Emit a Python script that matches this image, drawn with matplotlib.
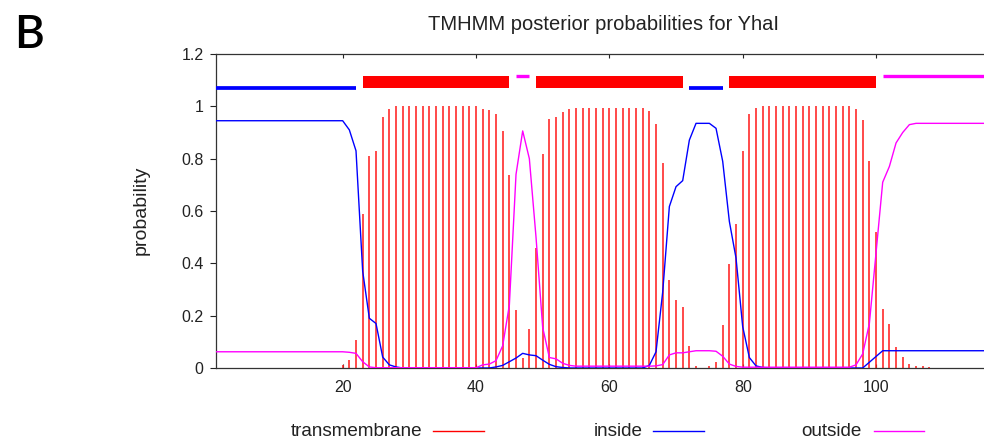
import matplotlib
matplotlib.use("Agg")
import matplotlib.pyplot as plt
from matplotlib.lines import Line2D

plt.rcParams['font.family'] = ['Liberation Sans', 'DejaVu Sans']

# ---------------- data ----------------
residues = list(range(1, 118))

transmembrane = [
    0, 0, 0, 0, 0, 0, 0, 0, 0, 0, 0, 0, 0, 0, 0, 0, 0, 0, 0,          # 1-19
    0.01, 0.03, 0.107, 0.59, 0.81, 0.83, 0.96, 0.99,                  # 20-27
    1.0, 1.0, 1.0, 1.0, 1.0, 1.0, 1.0, 1.0, 1.0, 1.0, 1.0, 1.0, 1.0,  # 28-40
    0.99, 0.985, 0.972, 0.907, 0.737, 0.222, 0.04, 0.148, 0.457, 0.816,
    0.95, 0.96, 0.98, 0.988,                                          # 41-54
    0.993, 0.993, 0.993, 0.993, 0.993, 0.993, 0.993, 0.993, 0.993, 0.993,  # 55-64
    0.992, 0.983, 0.931, 0.782, 0.336, 0.258, 0.233, 0.084, 0.008, 0.0,
    0.008, 0.024, 0.165, 0.397, 0.55, 0.83, 0.97, 0.993,              # 65-82
    1.0, 1.0, 1.0, 1.0, 1.0, 1.0, 1.0, 1.0, 1.0, 1.0, 1.0, 1.0, 1.0, 1.0,  # 83-96
    0.988, 0.946, 0.79, 0.518, 0.224, 0.167, 0.079, 0.043, 0.015, 0.008,
    0.008, 0.005,                                                     # 97-108
    0, 0, 0, 0, 0, 0, 0, 0, 0,                                        # 109-117
]

inside = [
    0.945, 0.945, 0.945, 0.945, 0.945, 0.945, 0.945, 0.945, 0.945, 0.945,
    0.945, 0.945, 0.945, 0.945, 0.945, 0.945, 0.945, 0.945, 0.945, 0.945,  # 1-20
    0.91, 0.83, 0.37, 0.19, 0.17, 0.042, 0.012, 0.004,                # 21-28
    0, 0, 0, 0, 0, 0, 0, 0, 0, 0, 0, 0, 0, 0,                          # 29-42
    0.004, 0.01, 0.024, 0.038, 0.056, 0.05, 0.047, 0.03, 0.014, 0.005,
    0.002,                                                            # 43-53
    0, 0, 0, 0, 0, 0, 0, 0, 0, 0, 0, 0,                                # 54-65
    0.01, 0.062, 0.29, 0.617, 0.693, 0.716, 0.871, 0.935, 0.935, 0.935,
    0.916, 0.79, 0.56, 0.42, 0.158, 0.04, 0.008, 0.002,                # 66-83
    0, 0, 0, 0, 0, 0, 0, 0, 0, 0, 0, 0, 0, 0, 0,                       # 84-98
    0.022, 0.044, 0.066,                                              # 99-101
    0.066, 0.066, 0.066, 0.066, 0.066, 0.066, 0.066, 0.066,
    0.066, 0.066, 0.066, 0.066, 0.066, 0.066, 0.066, 0.066,            # 102-117
]

outside = [
    0.062, 0.062, 0.062, 0.062, 0.062, 0.062, 0.062, 0.062, 0.062, 0.062,
    0.062, 0.062, 0.062, 0.062, 0.062, 0.062, 0.062, 0.062, 0.062, 0.062,  # 1-20
    0.06, 0.056, 0.024, 0.004,                                        # 21-24
    0.001, 0.001, 0.001, 0.001, 0.001, 0.001, 0.001, 0.001,
    0.001, 0.001, 0.001, 0.001, 0.001, 0.001, 0.001, 0.001,            # 25-40
    0.012, 0.015, 0.028, 0.085, 0.24, 0.74, 0.906, 0.80, 0.50, 0.155,
    0.04, 0.035, 0.018, 0.01,                                         # 41-54
    0.007, 0.007, 0.007, 0.007, 0.007, 0.007, 0.007, 0.007, 0.007, 0.007,
    0.007, 0.007,                                                     # 55-66
    0.008, 0.013, 0.05, 0.058, 0.058, 0.062, 0.066, 0.066, 0.066, 0.064,
    0.045, 0.015, 0.006,                                              # 67-79
    0.003, 0.003, 0.003, 0.003, 0.003, 0.003, 0.003, 0.003, 0.003,
    0.003, 0.003, 0.003, 0.003, 0.003, 0.003, 0.003, 0.003,            # 80-96
    0.012, 0.054, 0.17, 0.44, 0.71, 0.77, 0.86, 0.90, 0.93, 0.935,      # 97-106
    0.935, 0.935, 0.935, 0.935, 0.935, 0.935, 0.935, 0.935, 0.935,
    0.935, 0.935,                                                     # 107-117
]

# predicted topology (top track)
topo_start = [1, 23, 46, 49, 72, 78, 101]
topo_end = [22, 45, 48, 71, 77, 100, 117]
topo_type = ['inside', 'TMhelix', 'outside', 'TMhelix', 'inside', 'TMhelix', 'outside']

x_ticks = [20, 40, 60, 80, 100]
y_ticks = [0, 0.2, 0.4, 0.6, 0.8, 1.0, 1.2]
y_tick_labels = ['0', '0.2', '0.4', '0.6', '0.8', '1', '1.2']

title = 'TMHMM posterior probabilities for YhaI'
legend_labels = ['transmembrane', 'inside', 'outside']

# ---------------- style ----------------
RED = '#ff0000'
BAR_RED = '#ff2222'
BLUE = '#0000ff'
MAGENTA = '#ff00ff'
W, H = 984, 438

fig = plt.figure(figsize=(W / 100, H / 100), dpi=100)
ax = fig.add_axes([216 / W, 1 - 368 / H, 1 - 216 / W, (368 - 54) / H])

ax.vlines(residues, 0, transmembrane, color=BAR_RED, lw=1.15, zorder=2)
ax.plot(residues, inside, color=BLUE, lw=1.0, zorder=3)
ax.plot(residues, outside, color=MAGENTA, lw=1.0, zorder=4)

# topology track
for s, e, t in zip(topo_start, topo_end, topo_type):
    if t == 'TMhelix':
        ax.fill_between([s, e], 1.069, 1.116, color=RED, lw=0, zorder=3)
    elif t == 'inside':
        ax.plot([s, e], [1.069, 1.069], color=BLUE, lw=2.7,
                solid_capstyle='butt', zorder=3)
    else:
        ax.plot([s, e], [1.116, 1.116], color=MAGENTA, lw=2.4,
                solid_capstyle='butt', zorder=3)

ax.set_xlim(1, 1 + 768 / 6.667)
ax.set_ylim(0, 1.2)
ax.set_xticks(x_ticks)
ax.set_xticklabels([str(v) for v in x_ticks])
ax.set_yticks(y_ticks)
ax.set_yticklabels(y_tick_labels)

for side in ['left', 'top', 'bottom']:
    ax.spines[side].set_color('#333333')
    ax.spines[side].set_linewidth(0.9)
ax.spines['right'].set_visible(False)

ax.tick_params(axis='x', direction='in', length=3, top=True, labeltop=False,
               pad=9, labelsize=11.5, colors='#222222', width=0.8)
ax.tick_params(axis='y', direction='out', length=4, pad=5,
               labelsize=11.5, colors='#222222', width=0.8)

fig.text(141 / W, 1 - 210 / H, 'probability', rotation=90, ha='center',
         va='center', fontsize=14, color='#222222')
fig.text(603 / W, 1 - 24 / H, title, ha='center', va='center',
         fontsize=14.5, color='#222222')
fig.text(14 / W, 1 - 48 / H, 'B', ha='left', va='baseline', fontsize=33,
         family=['Lato', 'DejaVu Sans'], fontweight='semibold')

# legend below the plot
leg_y = 1 - 431 / H
leg_items = [(422, 433, 484, RED), (643, 653, 704, BLUE), (862, 874, 924, MAGENTA)]
for (tx, l0, l1, c), lab in zip(leg_items, legend_labels):
    fig.text(tx / W, leg_y, lab, ha='right', va='center', fontsize=13.6,
             color='#222222')
    fig.add_artist(Line2D([l0 / W, l1 / W], [leg_y, leg_y], color=c, lw=1.0))

fig.savefig('out.png', dpi=100)
